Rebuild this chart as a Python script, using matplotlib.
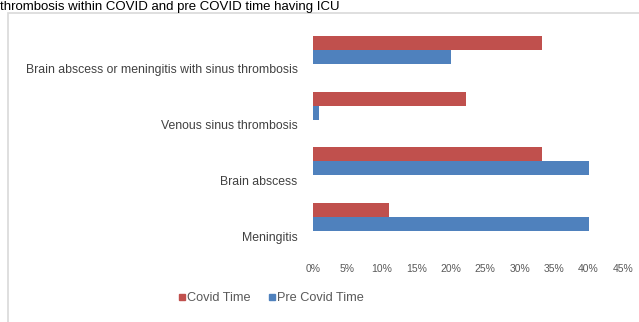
import matplotlib
matplotlib.use("Agg")
import matplotlib.pyplot as plt
from matplotlib.patches import Rectangle
from matplotlib.lines import Line2D
import numpy as np

categories = ["Meningitis", "Brain abscess", "Venous sinus thrombosis",
              "Brain abscess or meningitis with sinus thrombosis"]
covid_time = [11.1, 33.3, 22.2, 33.3]
pre_covid_time = [40.0, 40.0, 0.9, 20.0]
xticks = [0, 5, 10, 15, 20, 25, 30, 35, 40, 45]
xtick_labels = [f"{v}%" for v in xticks]
series_names = ["Covid Time", "Pre Covid Time"]
title_text = "thrombosis within COVID and pre COVID time having ICU"

red = "#C0504D"
blue = "#4F81BD"
plt.rcParams['font.family'] = ['Liberation Sans', 'DejaVu Sans']

W, H = 639, 322
fig = plt.figure(figsize=(W / 100, H / 100), dpi=100)
fig.patch.set_facecolor("white")

# outer chart frame
fig.patches.append(Rectangle((8 / W, -0.02), (W - 8) / W + 0.05, 1 - 13 / H + 0.02,
                             transform=fig.transFigure, facecolor="white",
                             edgecolor="#D9D9D9", linewidth=1.2, zorder=0))
# caption text at top
fig.text(0.0, 1 - 10 / H, title_text, fontsize=9.5, color="black",
         ha="left", va="baseline")

ax = fig.add_axes([313 / W, 1 - 245 / H, (623 - 313) / W, (245 - 22) / H])
ax.set_zorder(3)
ax.set_facecolor("none")

y = np.arange(len(categories))
h = 0.25
ax.barh(y + h / 2, covid_time, height=h, color=red, label=series_names[0])
ax.barh(y - h / 2, pre_covid_time, height=h, color=blue, label=series_names[1])

ax.set_xlim(0, 45)
ax.set_ylim(-0.5, len(categories) - 0.5)
ax.set_xticks(xticks)
ax.set_xticklabels(xtick_labels, fontsize=7.5, color="#595959")
ax.set_yticks(y - 0.34)
ax.set_yticklabels(categories, fontsize=8.8, color="#404040")
ax.tick_params(axis="both", length=0)
ax.tick_params(axis="x", pad=14)
ax.tick_params(axis="y", pad=11)
for s in ax.spines.values():
    s.set_visible(False)

handles = [Line2D([], [], marker="s", linestyle="none", markersize=4.5, color=red),
           Line2D([], [], marker="s", linestyle="none", markersize=4.5, color=blue)]
leg = fig.legend(handles, series_names, loc="center", bbox_to_anchor=(271 / W, 1 - 298 / H),
                 ncol=2, frameon=False, fontsize=9.2, labelcolor="#595959",
                 handlelength=0.6, handletextpad=0.1, columnspacing=1.4)
leg.set_zorder(3)

fig.savefig("out.png", dpi=100, facecolor="white")
